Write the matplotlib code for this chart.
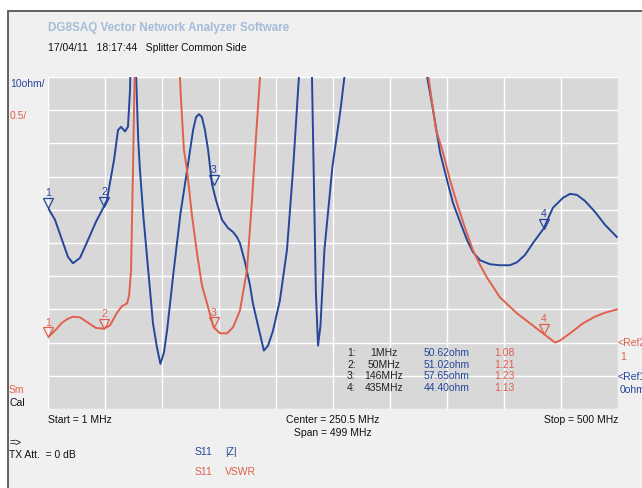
import matplotlib
matplotlib.use("Agg")
import matplotlib.pyplot as plt
import matplotlib.transforms as mtrans
import numpy as np

#-- traces (MHz, ohm / VSWR)
z_freq = [1, 7.1, 13.3, 18.5, 22.9, 29, 36, 43, 50, 52.6, 55.3, 58.8, 62.3, 64.9, 68.4, 71, 72.8, 73.7,
          77.2, 80, 81.5, 84.5, 87.7, 92.9, 96.4, 99.4, 102.5, 105.2, 111, 117, 123, 128, 130.6, 133.2,
          135.8, 138.4, 141.1, 144.6, 148, 153.3, 158.6, 163, 166.4, 169, 173.5, 177.8, 180.4, 184.8,
          190, 193.6, 198, 204, 210.2, 215.5, 222.5,
          231.5, 232.1, 235.5, 237.4, 239.5, 243, 250, 257, 264,
          332.8, 338, 344.2, 350.3, 355.5, 361.7, 367.8, 373, 379.2, 388, 396.7, 405.4, 411.6,
          418.6, 425.6, 435, 443, 451.8, 458, 464, 471, 479.8, 488.6, 499]
z_ohm = [50.6, 47, 40.9, 35.8, 33.9, 35.5, 40.9, 46.4, 51.0, 53, 58.2, 65, 74, 75, 73.6, 75, 86, 100,
         100, 71, 62, 48, 35.8, 15.8, 8.5, 3.6, 7, 13.6, 31.5, 49, 62.4, 74, 77.9, 78.8,
         77.9, 74, 68.2, 57.7, 53, 47, 44.5, 43.3, 41.8, 40, 34.2, 27.3, 21.8, 15.2,
         7.6, 9.1, 13.6, 22.7, 37.9, 62, 100,
         100, 90, 25.2, 9.1, 15, 38, 63, 80, 100,
         90.3, 80.3, 67.3, 59, 52.1, 46.4, 40.9, 37.3, 34.8, 33.6, 33.3, 33.3, 34.2,
         36.4, 40, 44.4, 50.6, 53.6, 54.8, 54.5, 52.7, 49.4, 45.5, 41.8]

v_freq = [1, 7.1, 13.3, 18.5, 22.9, 29, 36, 43, 50, 55.3, 61.4, 65.8, 70.2, 72, 73.7, 75.4, 76.3, 77.2,
          115.7, 117.4, 120, 122.7, 127, 131.4, 135.8, 140.2, 146, 151.6, 157.7, 163, 169, 175.2,
          179.6, 183.1, 186.6, 188.3,
          331.9, 340.6, 346.8, 352.9, 359, 366, 373, 379.2, 385.3, 396.7, 411.6, 423, 435, 440.4,
          444.8, 449.2, 458, 469.3, 479.8, 488.6, 499]
v_swr = [1.08, 1.18, 1.30, 1.36, 1.39, 1.38, 1.30, 1.22, 1.21, 1.26, 1.45, 1.55, 1.59, 1.71, 2.09, 3.6, 4.5, 5.3,
         5.3, 4.67, 3.9, 3.6, 2.92, 2.35, 1.86, 1.59, 1.23, 1.14, 1.14, 1.23, 1.48, 2.09,
         3.15, 4.1, 5.0, 5.3,
         5.26, 4.21, 3.86, 3.45, 3.1, 2.73, 2.39, 2.17, 1.98, 1.68, 1.44, 1.29, 1.13, 1.06,
         1.0, 1.03, 1.14, 1.29, 1.39, 1.45, 1.5]

#-- marker table
mk_id = ["1", "2", "3", "4"]
mk_freq = [1, 50, 146, 435]
mk_ohm = [50.62, 51.02, 57.65, 44.40]
mk_swr = [1.08, 1.21, 1.23, 1.13]

BLUE = "#25469a"
RED = "#e0604c"
W, H = 642, 488

def px(x, y):
    return x / W, 1 - y / H

plt.rcParams['font.family'] = ['Liberation Sans', 'DejaVu Sans']

fig = plt.figure(figsize=(6.42, 4.88), dpi=100)
fig.patch.set_facecolor("white")
fig.patches.append(plt.Rectangle(px(8, 495), (W + 10) / W, (495 - 11) / H, transform=fig.transFigure,
                                 facecolor="#f0f0f0", edgecolor="#555555", linewidth=1.3, zorder=-10))

l, b = px(48, 409)
r, t = px(618, 77)
ax = fig.add_axes([l, b, r - l, t - b])
ax2 = ax.twinx()

ax.set_facecolor("#d8d8d8")
ax.set_xlim(1, 500)
ax.set_ylim(-10, 90)
ax.set_xticks(np.linspace(1, 500, 11))
ax.set_yticks(np.arange(-10, 91, 10))
ax.grid(True, color="white", linewidth=1.0)
ax2.set_ylim(0, 5)
for a in (ax, ax2):
    a.tick_params(left=False, right=False, bottom=False, labelleft=False, labelright=False, labelbottom=False)
    for s in a.spines.values():
        s.set_visible(False)

ax.plot(z_freq, z_ohm, color=BLUE, linewidth=1.4, zorder=3)
ax2.plot(v_freq, v_swr, color=RED, linewidth=1.4, zorder=3)

#-- marker triangles with numbers
for a, vals, c in ((ax, mk_ohm, BLUE), (ax2, mk_swr, RED)):
    tri_tr = mtrans.offset_copy(a.transData, fig=fig, y=3.5, units='points')
    num_tr = mtrans.offset_copy(a.transData, fig=fig, y=7, units='points')
    for i, f, v in zip(mk_id, mk_freq, vals):
        a.plot(f, v, marker='v', markersize=6.5, mfc='none', mec=c, mew=0.9, transform=tri_tr, zorder=4,
               clip_on=False)
        a.text(f, v, i, color=c, fontsize=7.5, ha='center', va='bottom', transform=num_tr, zorder=4)

#-- marker readout
rows = [353, 365, 376, 388]
for y, i, f, zo, sw in zip(rows, mk_id, mk_freq, mk_ohm, mk_swr):
    fig.text(*px(347, y), i + ":", fontsize=7.5, va='center', color="#222222")
    fig.text(*px(384, y), "%dMHz" % f, fontsize=7.5, va='center', ha='center', color="#222222")
    fig.text(*px(424, y), "%.2fohm" % zo, fontsize=7.5, va='center', color=BLUE)
    fig.text(*px(494, y), "%.2f" % sw, fontsize=7.5, va='center', color=RED)

#-- screen labels
fig.text(*px(48, 28), "DG8SAQ Vector Network Analyzer Software", fontsize=8.4, weight='bold',
         va='center', color="#a3bdd8")
fig.text(*px(48, 48), "17/04/11   18:17:44   Splitter Common Side", fontsize=7.5, va='center', color="#111111")
fig.text(*px(10, 84), "10ohm/", fontsize=7.5, va='center', color=BLUE)
fig.text(*px(10, 116), "0.5/", fontsize=7.5, va='center', color=RED)
fig.text(*px(9, 390), "Sm", fontsize=7.5, va='center', color=RED)
fig.text(*px(9, 403), "Cal", fontsize=7.5, va='center', color="#111111")
fig.text(*px(48, 420), "Start = 1 MHz", fontsize=7.5, va='center', color="#111111")
fig.text(*px(333, 420), "Center = 250.5 MHz", fontsize=7.5, va='center', ha='center', color="#111111")
fig.text(*px(333, 433), "Span = 499 MHz", fontsize=7.5, va='center', ha='center', color="#111111")
fig.text(*px(618, 420), "Stop = 500 MHz", fontsize=7.5, va='center', ha='right', color="#111111")
fig.text(*px(9, 443), "=>", fontsize=7.5, va='center', color="#111111")
fig.text(*px(9, 455), "TX Att.  = 0 dB", fontsize=7.5, va='center', color="#111111")
fig.text(*px(195, 452), "S11", fontsize=7.5, va='center', color=BLUE)
fig.text(*px(225, 452), "|Z|", fontsize=7.5, va='center', color=BLUE)
fig.text(*px(195, 472), "S11", fontsize=7.5, va='center', color=RED)
fig.text(*px(225, 472), "VSWR", fontsize=7.5, va='center', color=RED)
fig.text(*px(618, 343), "<Ref2", fontsize=7.5, va='center', color=RED)
fig.text(*px(620, 357), "1", fontsize=7.5, va='center', color=RED)
fig.text(*px(618, 377), "<Ref1", fontsize=7.5, va='center', color=BLUE)
fig.text(*px(620, 390), "0ohm", fontsize=7.5, va='center', color=BLUE)

fig.savefig("out.png", dpi=100)
